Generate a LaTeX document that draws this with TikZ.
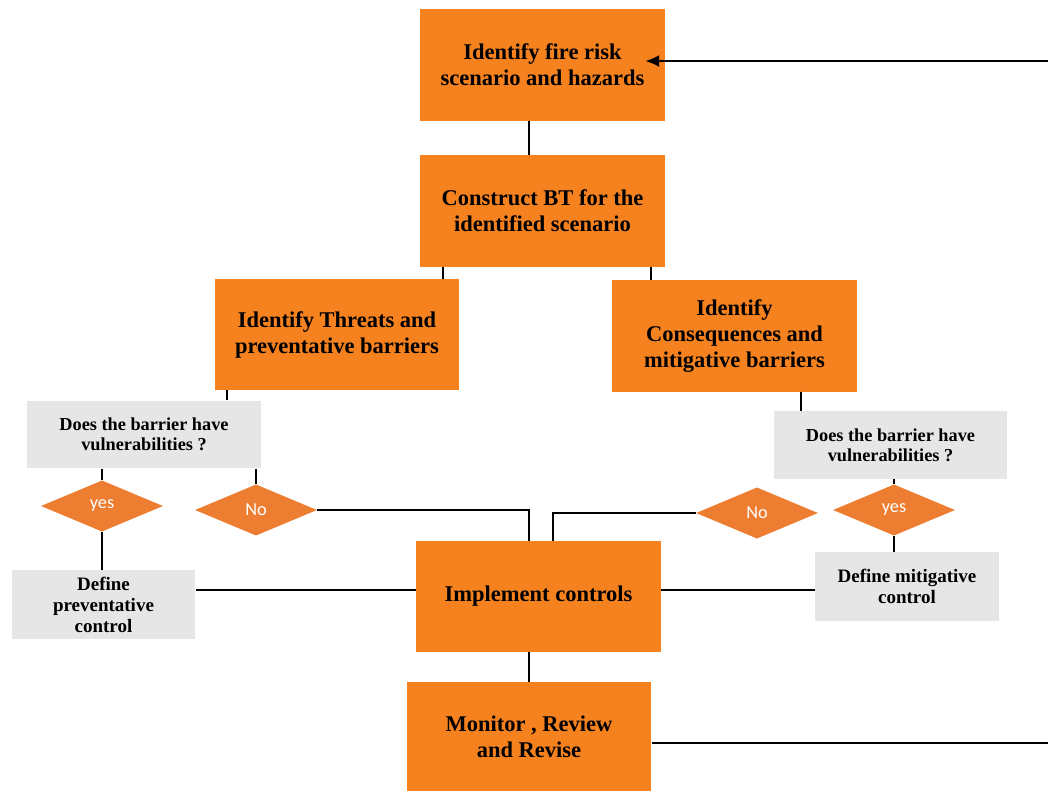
\documentclass[tikz,border=0pt]{standalone}
\usepackage{fontspec}
\setmainfont{Liberation Serif}
\newfontfamily\diafont{Carlito}
\usetikzlibrary{shapes.geometric, arrows.meta}
\definecolor{boxorange}{HTML}{F5821F}
\definecolor{diaorange}{HTML}{ED7D31}
\definecolor{boxgray}{HTML}{E6E6E6}
\tikzset{stage/.style = {fill=boxorange, align=center, inner sep=0,
    minimum width=6.12cm, minimum height=2.78cm,
    font=\fontsize{16}{18.5}\selectfont\bfseries},
  query/.style = {fill=boxgray, align=center, inner sep=0,
    minimum width=5.84cm, minimum height=1.69cm,
    font=\fontsize{13}{14.2}\selectfont\bfseries},
  action/.style = {fill=boxgray, align=center, inner sep=0,
    minimum width=4.59cm, minimum height=1.72cm,
    font=\fontsize{13.5}{15}\selectfont\bfseries},
  answer/.style = {diamond, fill=diaorange, inner sep=0, text=white,
    minimum width=3.05cm, minimum height=1.28cm,
    font=\diafont\fontsize{13}{14}\selectfont},
  link/.style = {line width=1.6pt}}

\begin{document}
\begin{tikzpicture}[x=0.025cm, y=-0.025cm]
    \useasboundingbox (0, 0) rectangle (1048, 791);
    \node (risk) at (542.5, 65) [stage] {Identify fire risk\\scenario and hazards};
    \node (bt) at (542.5, 211) [stage] {Construct BT for the\\identified scenario};
    \node (threats) at (337, 334.5) [stage] {Identify Threats and\\preventative barriers};
    \node (conseq) at (734.5, 336) [stage] {Identify\\Consequences and\\mitigative barriers};
    \node (qleft) at (144, 434.5) [query] {Does the barrier have\\vulnerabilities ?};
    \node (qright) at (890.5, 445) [query] {Does the barrier have\\vulnerabilities ?};
    \node (yesL) at (102, 506) [answer] {yes};
    \node (noL) at (256, 510) [answer] {No};
    \node (noR) at (757, 513) [answer] {No};
    \node (yesR) at (894, 510) [answer] {yes};
    \node (defL) at (103.5, 604.5) [action] {Define\\preventative\\control};
    \node (defR) at (907, 586.5) [action] {Define mitigative\\control};
    \node (impl) at (538.5, 596.5) [stage] {Implement controls};
    \node (mon) at (529, 736.5) [stage, minimum height=2.73cm] {Monitor , Review\\and Revise};

    \coordinate (spine) at (529, 0);
    \coordinate (tapT) at (443, 0);
    \coordinate (tapC) at (651, 0);
    \coordinate (tapP) at (227, 0);
    \coordinate (tapQ) at (801, 0);
    \coordinate (tapM) at (553, 0);
    \coordinate (tapD) at (0, 590);
    \coordinate (fbTop) at (1048, 61);
    \coordinate (fbBot) at (1048, 743);

    \draw [link] (risk.south -| spine) -- (bt.north -| spine);
    \draw [link] (bt.south -| tapT) -- (threats.north -| tapT);
    \draw [link] (bt.south -| tapC) -- (conseq.north -| tapC);
    \draw [link] (threats.south -| tapP) -- (qleft.north -| tapP);
    \draw [link] (conseq.south -| tapQ) -- (qright.north -| tapQ);
    \draw [link] (qleft.south -| yesL.north) -- (yesL.north);
    \draw [link] (qleft.south -| noL.north) -- (noL.north);
    \draw [link] (qright.south -| yesR.north) -- (yesR.north);
    \draw [link] (yesL.south) -- (yesL.south |- defL.north);
    \draw [link] (yesR.south) -- (yesR.south |- defR.north);
    \draw [link] (noL.east) -| (spine |- impl.north);
    \draw [link] (noR.west) -| (tapM |- impl.north);
    \draw [link] (defL.east |- tapD) -- (impl.west |- tapD);
    \draw [link] (defR.west |- tapD) -- (impl.east |- tapD);
    \draw [link] (impl.south -| spine) -- (mon.north -| spine);
    \draw [link] (mon.east |- fbBot) -- (fbBot);
    \draw [link, -{Latex[length=3.5mm, width=3mm]}, shorten >=-0.5cm] (fbTop) -- (fbTop -| risk.east);
\end{tikzpicture}
\end{document}
